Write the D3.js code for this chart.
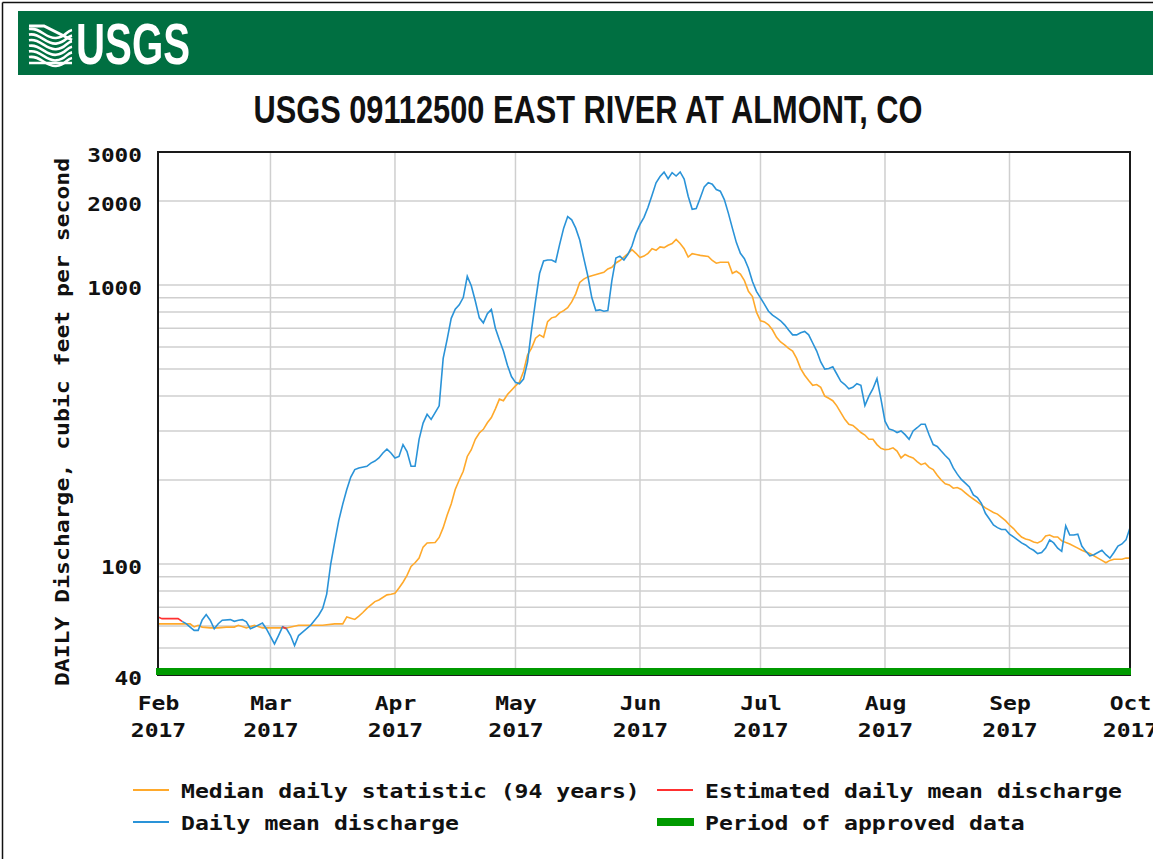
<!DOCTYPE html>
<html>
<head>
<meta charset="utf-8">
<script src="https://cdn.jsdelivr.net/npm/d3@7"></script>
<style>
  html, body { margin: 0; padding: 0; background: #fff; }
  svg { display: block; }
</style>
</head>
<body>
<svg id="chart" width="1153" height="859"></svg>
<script>
// ---------------- DATA ----------------
const chartTitle = "USGS 09112500 EAST RIVER AT ALMONT, CO";
const yAxisTitle = "DAILY Discharge, cubic feet per second";
const yTickValues = [40, 100, 1000, 2000, 3000];
const yGridValues = [50, 60, 70, 80, 90, 100, 200, 300, 400, 500, 600, 700, 800, 900, 1000, 2000];
const monthTicks = ["02-01","03-01","04-01","05-01","06-01","07-01","08-01","09-01","10-01"];
const monthNames = ["Feb","Mar","Apr","May","Jun","Jul","Aug","Sep","Oct"];
const yearLabel = "2017";

// Median daily statistic (94 years), cfs
const medianDaily = [
 ["02-01",61],["02-09",61],["02-10",59.5],["02-11",60.3],["02-12",59.4],["02-14",59],["02-16",59],["02-18",59.4],
 ["02-20",59.4],["02-21",60.3],["02-23",59],["02-25",60.3],["02-27",59],["03-01",59],["03-05",59],["03-08",60.3],
 ["03-14",60.3],["03-17",61],["03-19",61],["03-20",64.6],["03-22",63.3],["03-23",65],["03-24",67],["03-25",69.3],
 ["03-27",73.3],["03-28",74.3],["03-30",77.5],["03-31",77.9],["04-01",78.6],["04-02",82],["04-03",86],["04-04",91],
 ["04-05",98],["04-06",101],["04-07",105],["04-08",115],["04-09",119],["04-11",119.4],["04-12",124.5],["04-13",135],
 ["04-14",150],["04-15",164],["04-16",185],["04-17",200],["04-18",215],["04-19",243],["04-20",257],["04-21",280],
 ["04-22",295],["04-23",304],["04-24",321],["04-25",335],["04-26",360],["04-27",390],["04-28",385],["04-29",405],
 ["04-30",420],["05-01",435],["05-02",449],["05-03",490],["05-04",561],["05-05",594],["05-06",645],["05-07",663],
 ["05-08",650],["05-09",740],["05-10",763],["05-11",770],["05-12",795],["05-13",810],["05-14",830],["05-15",870],
 ["05-16",930],["05-17",1022],["05-18",1051],["05-19",1070],["05-20",1081],["05-23",1111],["05-24",1143],["05-25",1159],
 ["05-26",1200],["05-27",1225],["05-28",1260],["05-29",1296],["05-30",1340],["05-31",1300],["06-01",1255],["06-02",1270],
 ["06-03",1300],["06-04",1351],["06-05",1332],["06-06",1370],["06-07",1362],["06-08",1389],["06-09",1409],["06-10",1457],
 ["06-11",1409],["06-12",1351],["06-13",1260],["06-14",1296],["06-15",1288],["06-16",1278],["06-18",1267],["06-19",1225],
 ["06-20",1198],["06-21",1208],["06-23",1208],["06-24",1102],["06-25",1121],["06-26",1096],["06-27",1037],["06-28",950],
 ["06-29",910],["06-30",800],["07-01",745],["07-02",738],["07-03",720],["07-04",690],["07-05",650],["07-06",625],
 ["07-07",610],["07-08",593],["07-09",580],["07-10",546],["07-11",502],["07-12",475],["07-13",455],["07-14",437],
 ["07-15",440],["07-16",430],["07-17",400],["07-18",393],["07-19",385],["07-20",369],["07-21",349],["07-22",330],
 ["07-23",317],["07-24",314],["07-25",305],["07-26",296],["07-27",290],["07-28",280],["07-29",280],["07-30",268],
 ["07-31",260],["08-01",257],["08-02",258],["08-03",261],["08-04",254],["08-05",240],["08-06",247],["08-07",243],
 ["08-08",240],["08-09",233],["08-10",227],["08-11",230],["08-12",222],["08-13",218],["08-14",208],["08-15",200],
 ["08-16",194],["08-17",192],["08-18",187],["08-19",188],["08-20",185],["08-21",180],["08-22",175],["08-23",171],
 ["08-24",167],["08-25",163],["08-26",159],["08-27",156],["08-28",153],["08-29",151],["08-30",147],["08-31",143],
 ["09-01",138],["09-02",134],["09-03",129],["09-04",125],["09-05",123],["09-06",122],["09-07",120],["09-08",119],
 ["09-09",121],["09-10",126],["09-11",127],["09-12",125],["09-13",125],["09-14",121],["09-16",118],["09-18",114],
 ["09-19",112],["09-21",109],["09-22",107],["09-23",105],["09-24",103],["09-25",101],["09-26",103],["09-27",104],
 ["09-29",104],["09-30",105],["10-01",105]
];

// Daily mean discharge (approved), cfs
const dailyMean = [
 ["02-07",62.3],["02-08",61.1],["02-09",59.4],["02-10",57.8],["02-11",57.8],["02-12",63.0],["02-13",65.9],["02-14",62.9],
 ["02-15",58.6],["02-16",61.1],["02-17",62.9],["02-19",63.2],["02-20",62.3],["02-21",62.9],["02-22",63.2],["02-23",62.0],
 ["02-24",58.6],["02-25",59.4],["02-27",61.4],["02-28",58.5],["03-02",51.7],["03-03",55.4],["03-04",59.5],["03-05",58.6],
 ["03-06",55.4],["03-07",51.0],["03-08",55.4],["03-09",57.0],["03-11",60.3],["03-12",62.9],["03-13",65.5],["03-14",69.3],
 ["03-15",78],["03-16",100],["03-17",120],["03-18",143],["03-19",164],["03-20",185],["03-21",205],["03-22",218],
 ["03-23",221],["03-25",224],["03-26",230],["03-27",234],["03-28",240],["03-29",250],["03-30",258],["03-31",250],
 ["04-01",240],["04-02",243],["04-03",268],["04-04",253],["04-05",224],["04-06",224],["04-07",280],["04-08",320],
 ["04-09",344],["04-10",330],["04-11",349],["04-12",369],["04-13",546],["04-14",640],["04-15",760],["04-16",820],
 ["04-17",850],["04-18",902],["04-19",1075],["04-20",994],["04-21",877],["04-22",763],["04-23",732],["04-24",790],
 ["04-25",818],["04-26",700],["04-27",635],["04-28",580],["04-29",516],["04-30",470],["05-01",448],["05-02",443],
 ["05-03",460],["05-04",530],["05-05",690],["05-06",877],["05-07",1100],["05-08",1220],["05-09",1230],["05-10",1230],
 ["05-11",1210],["05-12",1400],["05-13",1600],["05-14",1760],["05-15",1713],["05-16",1600],["05-17",1450],["05-18",1250],
 ["05-19",1080],["05-20",902],["05-21",810],["05-22",815],["05-23",806],["05-24",810],["05-25",1037],["05-26",1250],
 ["05-27",1270],["05-28",1230],["05-29",1290],["05-30",1380],["05-31",1532],["06-01",1650],["06-02",1750],["06-03",1900],
 ["06-04",2100],["06-05",2327],["06-06",2450],["06-07",2540],["06-08",2407],["06-09",2530],["06-10",2461],["06-11",2544],
 ["06-12",2400],["06-13",2082],["06-14",1870],["06-15",1880],["06-16",2053],["06-17",2250],["06-18",2330],["06-19",2300],
 ["06-20",2201],["06-21",2171],["06-22",2025],["06-23",1811],["06-24",1600],["06-25",1420],["06-26",1300],["06-27",1243],
 ["06-28",1150],["06-29",1030],["06-30",950],["07-01",900],["07-02",853],["07-03",806],["07-04",780],["07-05",763],
 ["07-06",745],["07-07",720],["07-08",690],["07-09",663],["07-10",663],["07-11",675],["07-12",682],["07-13",663],
 ["07-14",620],["07-15",580],["07-16",530],["07-17",500],["07-18",502],["07-19",509],["07-20",480],["07-21",452],
 ["07-22",440],["07-23",425],["07-24",430],["07-25",443],["07-26",437],["07-27",370],["07-28",400],["07-29",425],
 ["07-30",462],["07-31",390],["08-01",325],["08-02",305],["08-03",302],["08-04",296],["08-05",300],["08-06",291],
 ["08-07",280],["08-08",300],["08-09",308],["08-10",317],["08-11",317],["08-12",290],["08-13",268],["08-14",264],
 ["08-15",254],["08-16",245],["08-17",237],["08-18",221],["08-19",210],["08-20",201],["08-21",195],["08-22",189],
 ["08-23",177],["08-24",173],["08-25",165],["08-26",152],["08-27",145],["08-28",138],["08-29",135],["08-30",133],
 ["08-31",133],["09-01",128],["09-02",125],["09-03",122],["09-04",119],["09-05",117],["09-06",114],["09-07",112],
 ["09-08",109],["09-09",110],["09-10",114],["09-11",122],["09-12",119],["09-13",114],["09-14",111],["09-15",137],
 ["09-16",127],["09-17",127],["09-18",128],["09-19",116],["09-20",111],["09-21",107],["09-22",108],["09-23",110],
 ["09-24",112],["09-25",108],["09-26",105],["09-27",110],["09-28",116],["09-29",118],["09-30",122],["10-01",135]
];

// Estimated daily mean discharge, cfs (two short segments)
const estimatedFeb = [["02-01",64.5],["02-02",63.7],["02-06",63.7],["02-07",62.3]];
const estimatedMar = [["03-04",59.5],["03-05",58.6]];

// Period of approved data
const approvedPeriod = ["02-01","10-01"];

const legendItems = [
  {label: "Median daily statistic (94 years)", color: "#FFA92B", kind: "line", col: 0, row: 0},
  {label: "Estimated daily mean discharge", color: "#FF3030", kind: "line", col: 1, row: 0},
  {label: "Daily mean discharge", color: "#2A93D8", kind: "line", col: 0, row: 1},
  {label: "Period of approved data", color: "#009A00", kind: "bar", col: 1, row: 1}
];

// ---------------- DRAW ----------------
const parseDay = s => new Date(2017, +s.slice(0, 2) - 1, +s.slice(3, 5));
const svg = d3.select("#chart");
const mono = "'DejaVu Sans Mono', 'Liberation Mono', monospace";
const CH = 13.85; // character advance of the bitmap-like font

const plot = {left: 158, right: 1130, top: 152, bottom: 675};

const x = d3.scaleTime()
  .domain([parseDay(monthTicks[0]), parseDay(monthTicks[monthTicks.length - 1])])
  .range([plot.left, plot.right]);
const y = d3.scaleLog().domain([40, 3000]).range([plot.bottom, plot.top]);

// page frame
svg.append("line").attr("x1", 2.5).attr("x2", 1153).attr("y1", 2.5).attr("y2", 2.5)
  .attr("stroke", "#111").attr("stroke-width", 1.5);
svg.append("line").attr("x1", 2.5).attr("x2", 2.5).attr("y1", 2.5).attr("y2", 859)
  .attr("stroke", "#111").attr("stroke-width", 1.5);

// header banner
svg.append("rect").attr("x", 18).attr("y", 11).attr("width", 1140).attr("height", 64).attr("fill", "#006F41");
const logo = svg.append("g").attr("fill", "none").attr("stroke", "#fff").attr("stroke-linecap", "butt");
[0, 1, 2, 3, 4, 5].forEach(i => {
  const y0 = 29 + i * 5.6;
  logo.append("path")
    .attr("d", `M29,${y0} C40,${y0 - 2} 46,${y0 + 10} 56,${y0 + 9} S66,${y0 + 2} 72,${y0 + 1}`)
    .attr("stroke-width", 2.6);
});
logo.append("path").attr("d", "M29,26 L44,26 L72,40").attr("stroke-width", 3);
logo.append("path").attr("d", "M29,63 L72,63").attr("stroke-width", 2.5);
svg.append("text").attr("x", 76).attr("y", 64)
  .attr("font-family", "'Liberation Sans Narrow', 'Liberation Sans', Arial, sans-serif")
  .attr("font-weight", "bold").attr("font-size", 58).attr("fill", "#fff")
  .attr("textLength", 114).attr("lengthAdjust", "spacingAndGlyphs")
  .text("USGS");

// title
svg.append("text").attr("x", 588).attr("y", 123).attr("text-anchor", "middle")
  .attr("font-family", "'Liberation Sans Narrow', 'Liberation Sans', Arial, sans-serif")
  .attr("font-weight", "bold").attr("font-size", 38).attr("fill", "#111")
  .attr("textLength", 669).attr("lengthAdjust", "spacingAndGlyphs")
  .text(chartTitle);

// gridlines
const grid = svg.append("g");
grid.selectAll("line.h").data(yGridValues).join("line")
  .attr("x1", plot.left).attr("x2", plot.right)
  .attr("y1", d => y(d)).attr("y2", d => y(d))
  .attr("stroke", "#cfcfcf").attr("stroke-width", 1.5);
grid.selectAll("line.v").data(monthTicks.slice(1, -1)).join("line")
  .attr("x1", d => x(parseDay(d))).attr("x2", d => x(parseDay(d)))
  .attr("y1", plot.top).attr("y2", plot.bottom)
  .attr("stroke", "#cfcfcf").attr("stroke-width", 1.5);

// lines
const line = d3.line().x(d => x(parseDay(d[0]))).y(d => y(d[1]));
svg.append("path").datum(medianDaily).attr("d", line)
  .attr("fill", "none").attr("stroke", legendItems[0].color).attr("stroke-width", 1.6);
svg.append("path").datum(dailyMean).attr("d", line)
  .attr("fill", "none").attr("stroke", legendItems[2].color).attr("stroke-width", 1.6);
[estimatedFeb, estimatedMar].forEach(seg => {
  svg.append("path").datum(seg).attr("d", line)
    .attr("fill", "none").attr("stroke", legendItems[1].color).attr("stroke-width", 1.6);
});

// plot frame
svg.append("rect").attr("x", plot.left).attr("y", plot.top)
  .attr("width", plot.right - plot.left).attr("height", plot.bottom - plot.top)
  .attr("fill", "none").attr("stroke", "#1a1a1a").attr("stroke-width", 2);

// approved data bar
svg.append("rect")
  .attr("x", x(parseDay(approvedPeriod[0])) - 2).attr("y", plot.bottom - 7)
  .attr("width", x(parseDay(approvedPeriod[1])) - x(parseDay(approvedPeriod[0])) + 3)
  .attr("height", 7).attr("fill", legendItems[3].color);

// y axis labels
const yAxis = d3.axisLeft(y).tickValues(yTickValues).tickFormat(d3.format("d")).tickSize(0).tickPadding(16);
const gy = svg.append("g").attr("transform", `translate(${plot.left},0)`).call(yAxis);
gy.select(".domain").remove();
gy.selectAll("text")
  .attr("dy", null).attr("y", 9)
  .attr("font-family", mono).attr("font-weight", "bold").attr("font-size", 19).attr("fill", "#111")
  .attr("textLength", d => String(d).length * 13.7).attr("lengthAdjust", "spacingAndGlyphs");

// x axis labels
const xAxis = d3.axisBottom(x).tickValues(monthTicks.map(parseDay)).tickFormat(() => "").tickSize(0);
const gx = svg.append("g").attr("transform", `translate(0,${plot.bottom})`).call(xAxis);
gx.select(".domain").remove();
gx.selectAll(".tick text").each(function(d, i) {
  const t = d3.select(this).attr("y", null).attr("dy", null)
    .attr("font-family", mono).attr("font-weight", "bold").attr("font-size", 19).attr("fill", "#111");
  t.append("tspan").attr("x", 0).attr("y", 35)
    .attr("textLength", monthNames[i].length * CH).attr("lengthAdjust", "spacingAndGlyphs").text(monthNames[i]);
  t.append("tspan").attr("x", 0).attr("y", 62)
    .attr("textLength", yearLabel.length * CH).attr("lengthAdjust", "spacingAndGlyphs").text(yearLabel);
});

// y axis title
svg.append("text").attr("transform", "translate(68.5,422) rotate(-90)")
  .attr("text-anchor", "middle")
  .attr("font-family", mono).attr("font-weight", "bold").attr("font-size", 19).attr("fill", "#111")
  .attr("textLength", yAxisTitle.length * 13.9).attr("lengthAdjust", "spacingAndGlyphs")
  .text(yAxisTitle);

// legend
const legendCols = [133, 657];
const legendRows = [790, 822];
const lg = svg.append("g");
legendItems.forEach(it => {
  const lx = legendCols[it.col], ly = legendRows[it.row];
  if (it.kind === "line") {
    lg.append("line").attr("x1", lx).attr("x2", lx + 36).attr("y1", ly).attr("y2", ly)
      .attr("stroke", it.color).attr("stroke-width", 2);
  } else {
    lg.append("rect").attr("x", lx).attr("y", ly - 4).attr("width", 37).attr("height", 8).attr("fill", it.color);
  }
  lg.append("text").attr("x", lx + 48).attr("y", ly + 8)
    .attr("font-family", mono).attr("font-weight", "bold").attr("font-size", 20).attr("fill", "#111")
    .attr("textLength", it.label.length * 13.9).attr("lengthAdjust", "spacingAndGlyphs")
    .text(it.label);
});
</script>
</body>
</html>
